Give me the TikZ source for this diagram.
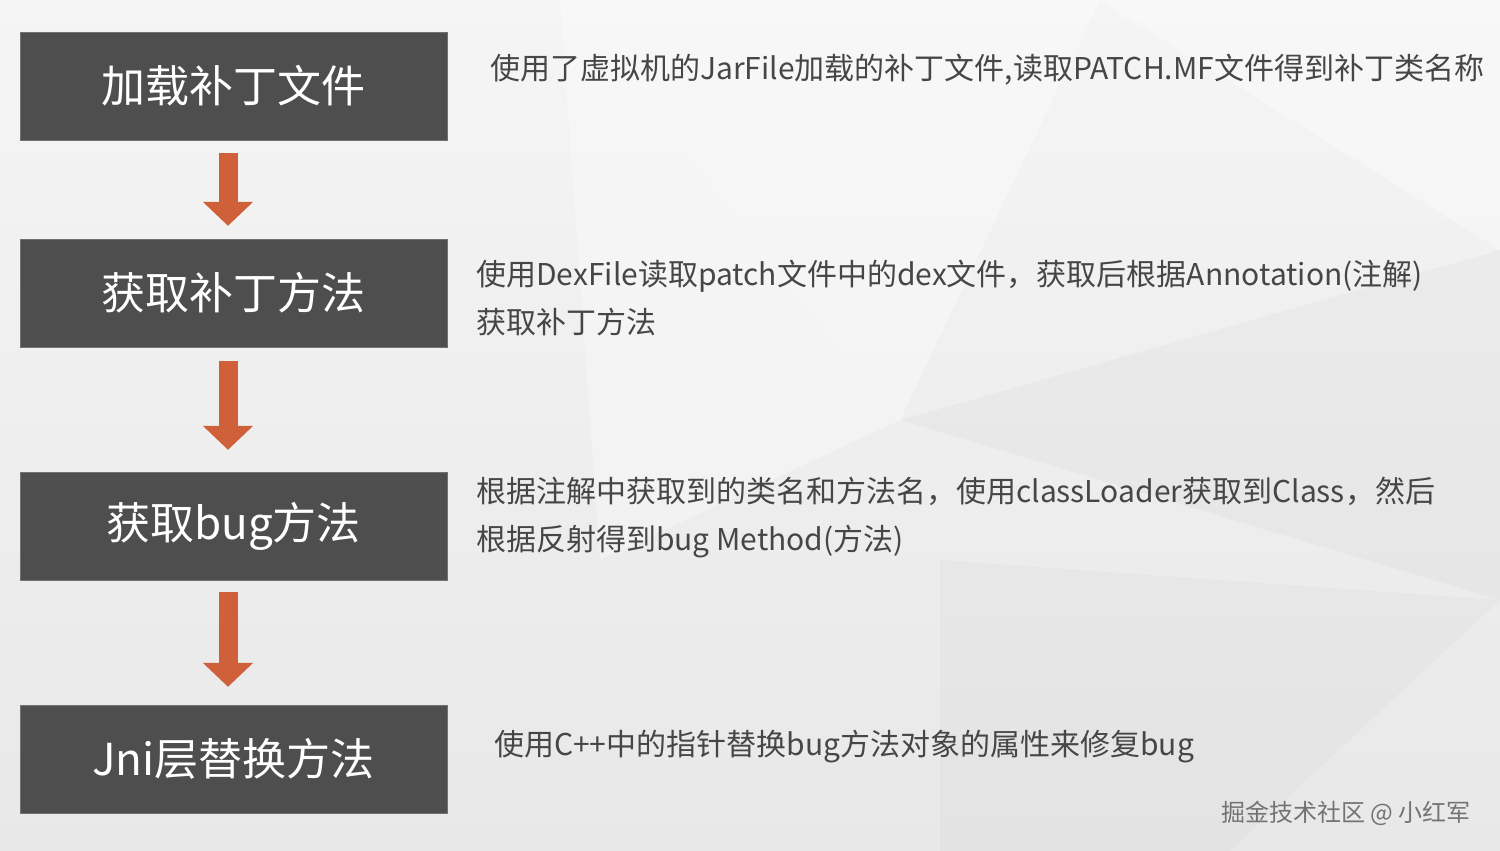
\documentclass[tikz,border=0pt]{standalone}
\usepackage{fontspec}
\setmainfont{Noto Sans CJK SC}
\usetikzlibrary{arrows.meta}
\definecolor{boxgray}{RGB}{78,78,78}
\definecolor{arroworange}{RGB}{208,96,58}
\definecolor{descgray}{RGB}{70,70,70}
\tikzset{
  stepbox/.style={fill=boxgray, draw=boxgray!80, text=white, minimum width=427pt,
    minimum height=108pt, inner sep=0pt, font=\fontsize{44}{50}\selectfont},
  desc/.style={anchor=west, inner sep=0pt, align=left, text=descgray,
    font=\fontsize{30}{48}\selectfont},
  blockarrow/.style={draw=arroworange, line width=19pt,
    -{Triangle[width=49pt,length=24pt]}, arroworange}
}
\begin{document}
\begin{tikzpicture}[x=1pt, y=-1pt]
\useasboundingbox (0,0) rectangle (1500,851);
% background
\shade[top color=white!96!black, bottom color=white!91!black] (0,0) rectangle (1500,851);
\fill[white, opacity=0.35] (560,0) -- (1100,0) -- (900,420) -- cycle;
\fill[white, opacity=0.35] (1100,0) -- (1500,0) -- (1500,250) -- cycle;
\fill[black, opacity=0.025] (900,420) -- (1500,250) -- (1500,600) -- cycle;
\fill[black, opacity=0.02] (940,560) -- (1500,600) -- (1230,851) -- (940,851) -- cycle;
\fill[white, opacity=0.3] (560,0) -- (900,420) -- (600,560) -- cycle;
% steps
\node [stepbox] (s1) at (233.5,86) {加载补丁文件};
\node [stepbox] (s2) at (233.5,293) {获取补丁方法};
\node [stepbox] (s3) at (233.5,526) {获取bug方法};
\node [stepbox] (s4) at (233.5,759) {Jni层替换方法};
% arrows
\draw [blockarrow] ([xshift=-5.5pt,yshift=-13pt]s1.south) -- ([xshift=-5.5pt,yshift=13pt]s2.north);
\draw [blockarrow] ([xshift=-5.5pt,yshift=-14pt]s2.south) -- ([xshift=-5.5pt,yshift=22pt]s3.north);
\draw [blockarrow] ([xshift=-5.5pt,yshift=-12pt]s3.south) -- ([xshift=-5.5pt,yshift=18pt]s4.north);
% descriptions
\node [desc] (d1) at (490,70) {使用了虚拟机的JarFile加载的补丁文件,读取PATCH.MF文件得到补丁类名称};
\node [desc] (d2) at (476,298) {使用DexFile读取patch文件中的dex文件，获取后根据Annotation(注解)\\获取补丁方法};
\node [desc] (d3) at (476,518) {根据注解中获取到的类名和方法名，使用classLoader获取到Class，然后\\根据反射得到bug Method(方法)};
\node [desc] (d4) at (494,747) {使用C++中的指针替换bug方法对象的属性来修复bug};
% watermark
\node [text=black!55, font=\fontsize{24}{28}\selectfont] (wm) at (1346,813) {掘金技术社区 @ 小红军};
\end{tikzpicture}
\end{document}
